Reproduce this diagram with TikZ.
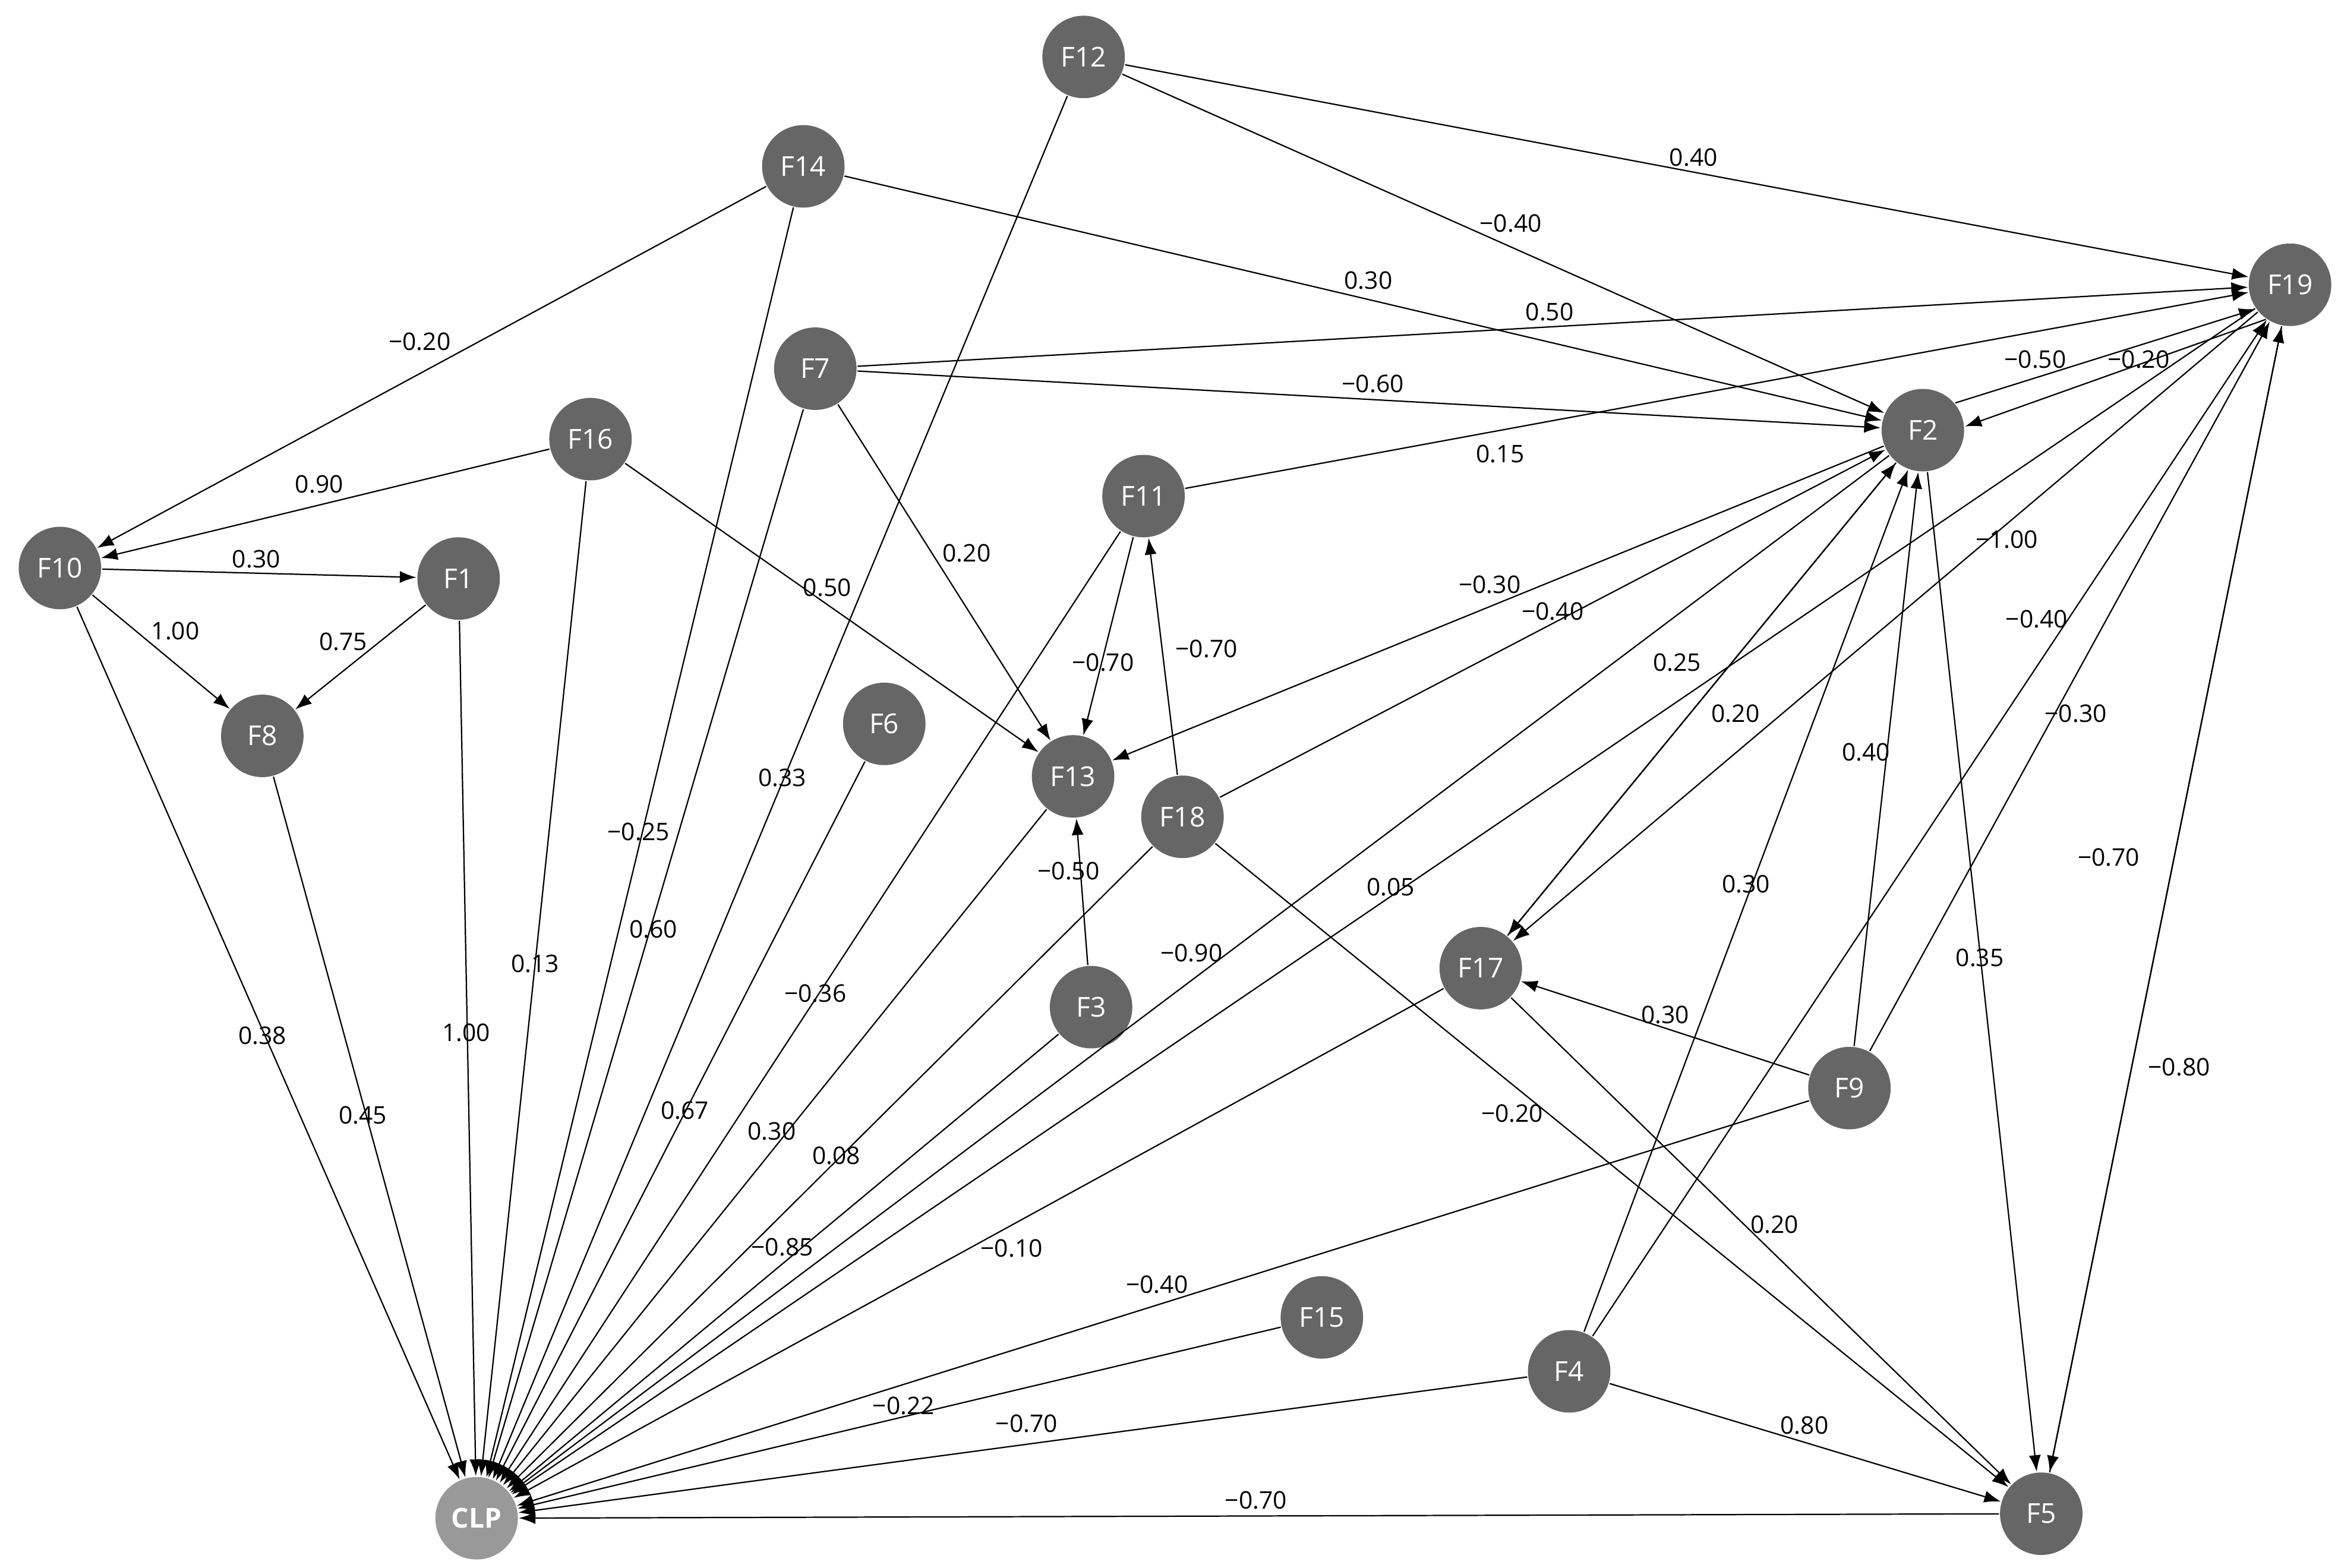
\documentclass[tikz,border=0pt]{standalone}
\usepackage{fontspec}
\setmainfont{Open Sans}
\usetikzlibrary{arrows.meta}
\begin{document}
\begin{tikzpicture}[x=0.01cm, y=-0.01cm]
\tikzstyle{factor}=[circle, fill=black!60, text=white, inner sep=0pt, minimum size=5.5mm, font=\fontsize{5.2}{6}\selectfont]
\tikzstyle{target}=[factor, fill=black!40, font=\fontsize{5.2}{6}\selectfont\bfseries]
\tikzstyle{link}=[-{Latex[length=1.1mm,width=0.8mm]}, line width=0.25pt]
\tikzstyle{w}=[font=\fontsize{4.6}{5}\selectfont, inner sep=0pt]
%
\useasboundingbox (0,0) rectangle (1560,1046);
\node [factor] (F12) at (723,38) {F12};
\node [factor] (F14) at (536,111) {F14};
\node [factor] (F19) at (1528,190) {F19};
\node [factor] (F7) at (544,246) {F7};
\node [factor] (F16) at (394,293) {F16};
\node [factor] (F2) at (1283,287) {F2};
\node [factor] (F11) at (763,331) {F11};
\node [factor] (F10) at (40,379) {F10};
\node [factor] (F1) at (306,386) {F1};
\node [factor] (F8) at (175,491) {F8};
\node [factor] (F6) at (590,483) {F6};
\node [factor] (F13) at (716,518) {F13};
\node [factor] (F18) at (789,545) {F18};
\node [factor] (F17) at (988,646) {F17};
\node [factor] (F3) at (728,672) {F3};
\node [factor] (F9) at (1234,726) {F9};
\node [factor] (F15) at (882,879) {F15};
\node [factor] (F4) at (1047,915) {F4};
\node [factor] (F5) at (1362,1010) {F5};
\node [target] (CLP) at (318,1013) {CLP};
%
\foreach \src in {F10,F8,F1,F16,F14,F7,F12,F6,F11,F13,F18,F3,F2,F19,F17,F9,F15,F4,F5}
  \draw [link] (\src) -- (CLP);
\foreach \src/\dst in {F12/F19,F12/F2,F14/F10,F14/F2,F7/F19,F7/F2,F7/F13,F16/F10,F16/F13,
  F11/F19,F11/F13,F10/F1,F10/F8,F1/F8,F3/F13,F18/F11,F18/F5,F18/F2,F2/F13,
  F17/F2,F2/F17,F19/F17,F4/F2,F4/F19,F9/F2,F9/F19,F9/F17,F2/F5,F19/F5,F5/F19,F17/F5,F4/F5}
  \draw [link] (\src) -- (\dst);
\draw [link] (F2.40) -- (F19.215);
\draw [link] (F19.235) -- (F2.5);
%
\node [w] at (1130,105) {0.40};
\node [w] at (1008,149) {−0.40};
\node [w] at (522,519) {0.33};
\node [w] at (280,228) {−0.20};
\node [w] at (913,187) {0.30};
\node [w] at (426,555) {−0.25};
\node [w] at (1034,208) {0.50};
\node [w] at (916,256) {−0.60};
\node [w] at (645,369) {0.20};
\node [w] at (436,620) {0.60};
\node [w] at (213,323) {0.90};
\node [w] at (552,392) {0.50};
\node [w] at (357,643) {0.13};
\node [w] at (1001,303) {0.15};
\node [w] at (736,442) {−0.70};
\node [w] at (805,433) {−0.70};
\node [w] at (544,663) {−0.36};
\node [w] at (457,741) {0.67};
\node [w] at (515,755) {0.30};
\node [w] at (558,771) {0.08};
\node [w] at (522,832) {−0.85};
\node [w] at (795,636) {−0.90};
\node [w] at (928,592) {0.05};
\node [w] at (675,833) {−0.10};
\node [w] at (772,857) {−0.40};
\node [w] at (603,938) {−0.22};
\node [w] at (685,950) {−0.70};
\node [w] at (838,1001) {−0.70};
\node [w] at (175,691) {0.38};
\node [w] at (242,744) {0.45};
\node [w] at (311,689) {1.00};
\node [w] at (171,373) {0.30};
\node [w] at (117,421) {1.00};
\node [w] at (229,428) {0.75};
\node [w] at (713,581) {−0.50};
\node [w] at (1009,743) {−0.20};
\node [w] at (994,390) {−0.30};
\node [w] at (1036,408) {−0.40};
\node [w] at (1358,240) {−0.50};
\node [w] at (1427,240) {−0.20};
\node [w] at (1339,360) {−1.00};
\node [w] at (1119,442) {0.25};
\node [w] at (1158,476) {0.20};
\node [w] at (1245,502) {0.40};
\node [w] at (1165,590) {0.30};
\node [w] at (1359,413) {−0.40};
\node [w] at (1385,476) {−0.30};
\node [w] at (1111,677) {0.30};
\node [w] at (1321,639) {0.35};
\node [w] at (1407,572) {−0.70};
\node [w] at (1454,712) {−0.80};
\node [w] at (1184,817) {0.20};
\node [w] at (1204,951) {0.80};
\end{tikzpicture}
\end{document}
